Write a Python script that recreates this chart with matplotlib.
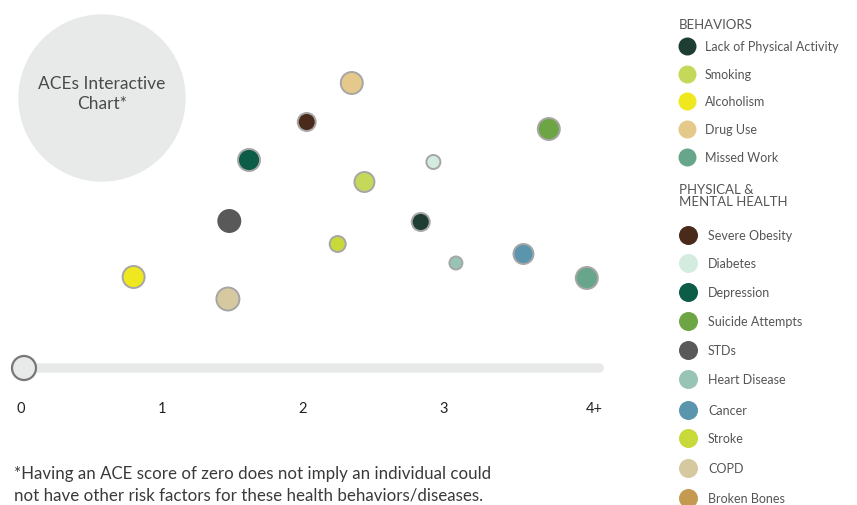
import matplotlib.pyplot as plt
from matplotlib.patches import Circle, FancyBboxPatch

plt.rcParams['font.family'] = ['Lato', 'DejaVu Sans']

# bubbles: x in ACE score units, y = arbitrary height above slider
names = ['Drug Use', 'Severe Obesity', 'Suicide Attempts', 'Depression', 'Diabetes',
         'Smoking', 'STDs', 'Lack of Physical Activity', 'Stroke', 'Heart Disease',
         'Cancer', 'Missed Work', 'Alcoholism', 'COPD']
bx = [2.35, 2.03, 3.75, 1.62, 2.93, 2.44, 1.48, 2.84, 2.25, 3.09, 3.57, 4.02, 0.80, 1.47]
by = [34.6, 30.7, 30.0, 26.9, 26.7, 24.7, 20.8, 20.7, 18.5, 16.6, 17.5, 15.1, 15.2, 13.0]
bd = [22, 18, 22, 22, 14, 20, 22, 18, 16, 13, 20, 22, 22, 23]

colors = {
    'Lack of Physical Activity': '#1e3d33', 'Smoking': '#c5d85a', 'Alcoholism': '#f0e81e',
    'Drug Use': '#e4c98a', 'Missed Work': '#67a68b', 'Severe Obesity': '#4a2a1a',
    'Diabetes': '#d4ebe0', 'Depression': '#0d5c48', 'Suicide Attempts': '#6ea544',
    'STDs': '#595959', 'Heart Disease': '#97c4b4', 'Cancer': '#5b95ad',
    'Stroke': '#c8d93a', 'COPD': '#d6c9a0', 'Broken Bones': '#c39a4f',
}
behaviors = ['Lack of Physical Activity', 'Smoking', 'Alcoholism', 'Drug Use', 'Missed Work']
health = ['Severe Obesity', 'Diabetes', 'Depression', 'Suicide Attempts', 'STDs',
          'Heart Disease', 'Cancer', 'Stroke', 'COPD', 'Broken Bones']
ticks = ['0', '1', '2', '3', '4+']

W, H = 857, 506
fig = plt.figure(figsize=(W / 100, H / 100), dpi=100)

# overlay axes in pixel coordinates for decorations
bg = fig.add_axes([0, 0, 1, 1])
bg.set_xlim(0, W)
bg.set_ylim(H, 0)
bg.axis('off')

# big title circle
bg.add_patch(Circle((102, 99), 83, color='#e8e9e9', zorder=1))
bg.text(102, 94, 'ACEs Interactive\nChart*', ha='center', va='center', fontsize=12.5,
        color='#4a4a4a', linespacing=1.3)

# slider
bg.add_patch(FancyBboxPatch((24, 365), 579, 8, boxstyle='round,pad=0,rounding_size=4',
                            color='#e8e9e9', zorder=1))
bg.add_patch(Circle((24, 369), 12, facecolor='#e8e9e9', edgecolor='#777777', lw=1.6, zorder=2))

# footnote
bg.text(14, 474, '*Having an ACE score of zero does not imply an individual could',
        fontsize=12.2, color='#3a3a3a', va='center')
bg.text(14, 496, 'not have other risk factors for these health behaviors/diseases.',
        fontsize=12.2, color='#3a3a3a', va='center')

# legend
bg.text(679, 25, 'BEHAVIORS', fontsize=9.5, color='#555555', va='center')
ly1 = [47, 75, 102, 130, 158]
for n, y in zip(behaviors, ly1):
    bg.scatter([687], [y], s=(18 * 0.72) ** 2, color=colors[n], zorder=3, lw=0)
    bg.text(705, y, n, fontsize=9, color='#555555', va='center')
bg.text(679, 196, 'PHYSICAL &\nMENTAL HEALTH', fontsize=9.5, color='#555555', va='center',
        linespacing=1.05)
ly2 = [236, 264, 293, 322, 351, 380, 411, 439, 469, 499]
for n, y in zip(health, ly2):
    bg.scatter([688], [y], s=(19 * 0.72) ** 2, color=colors[n], zorder=3, lw=0)
    bg.text(708, y, n, fontsize=9, color='#555555', va='center')

# data axes: x 0..4 maps to px 21..584
ax = fig.add_axes([21 / W, 1 - 430 / H, (584 - 21) / W, 430 / H])
ax.set_xlim(0, 4)
ax.set_ylim(0, 43)
ax.axis('off')
edges = ['#a6a6a6' if n != 'STDs' else colors[n] for n in names]
ax.scatter(bx, by, s=[(d * 0.72) ** 2 for d in bd], c=[colors[n] for n in names],
           edgecolors=edges, linewidths=1.4, zorder=3, clip_on=False)
for i, t in enumerate(ticks):
    xi = i + 0.07 if t == '4+' else i
    ax.text(xi, 2.1, t, ha='center', va='center', fontsize=10.5, color='#222222')

fig.savefig('out.png', dpi=100)
